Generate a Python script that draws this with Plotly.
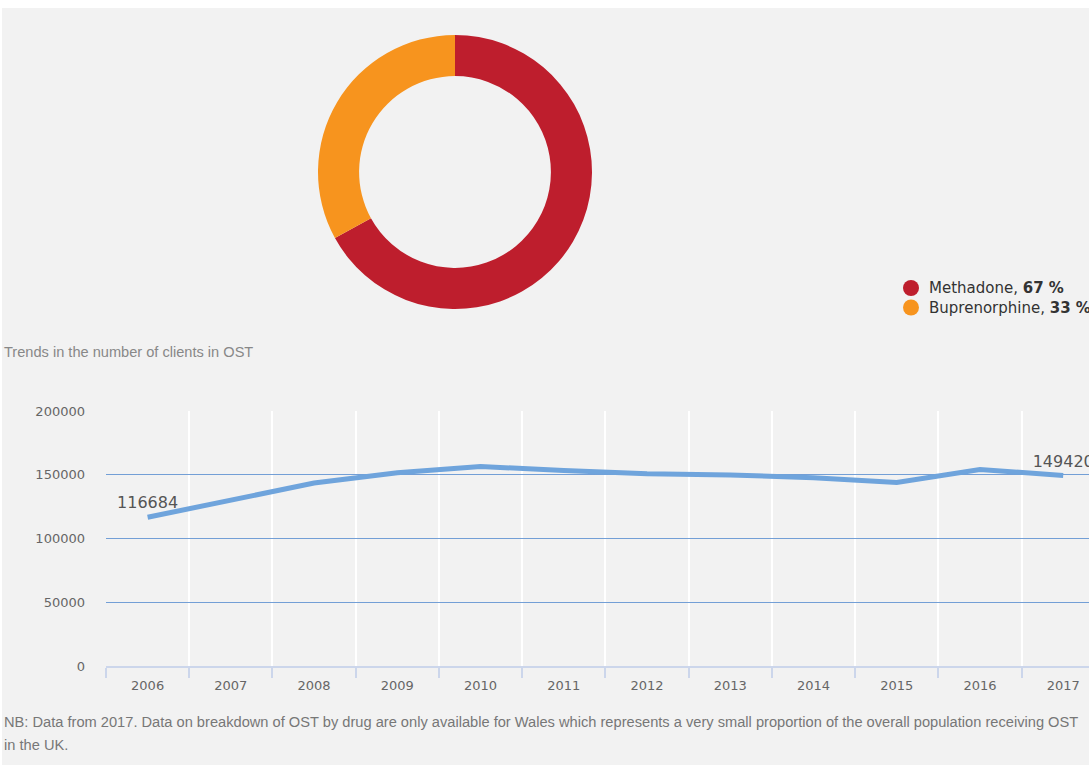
import plotly.graph_objects as go

# Donut data
drugs = ["Methadone", "Buprenorphine"]
shares = [67, 33]
drug_colors = ["#be1e2d", "#f7941e"]

# Line data
years = ["2006", "2007", "2008", "2009", "2010", "2011", "2012", "2013", "2014", "2015", "2016", "2017"]
clients = [116684, 129900, 143500, 151500, 156500, 153300, 150800, 149800, 147700, 143900, 154100, 149420]
labelled = ["116684", "", "", "", "", "", "", "", "", "", "", "149420"]

y_ticks = [0, 50000, 100000, 150000, 200000]

# page margins around the chart (top white band 8px, left 2px)
OFFX, OFFY = 2, 8
W, H = 1089 - OFFX, 765 - OFFY


def px_x(p):
    return (p - OFFX) / W


def px_y(p):
    return 1 - (p - OFFY) / H


fig = go.Figure()

fig.add_trace(go.Pie(
    labels=drugs, values=shares, hole=0.70, sort=False, direction="clockwise",
    rotation=0, marker=dict(colors=drug_colors, line=dict(width=0)),
    textinfo="none", showlegend=False,
    domain=dict(x=[px_x(318), px_x(592)], y=[px_y(309), px_y(35)]),
))

fig.add_trace(go.Scatter(
    x=years, y=clients, mode="lines+markers+text", text=labelled,
    textposition="top center",
    textfont=dict(family="DejaVu Sans", size=16, color="#555555"),
    marker=dict(size=6, color="rgba(0,0,0,0)"),
    line=dict(color="#6fa4dc", width=5), showlegend=False, cliponaxis=False,
))

# custom legend (circle symbols + labels), built from the donut data
shapes = []
annotations = []
legend_y = [288, 307.5]
for name, share, col, ly in zip(drugs, shares, drug_colors, legend_y):
    shapes.append(dict(
        type="circle", xref="paper", yref="paper",
        xsizemode="pixel", ysizemode="pixel",
        xanchor=px_x(911), yanchor=px_y(ly),
        x0=-8, x1=8, y0=-8, y1=8,
        fillcolor=col, line=dict(width=0),
    ))
    annotations.append(dict(
        text=f"{name}, <b>{share} %</b>", xref="paper", yref="paper",
        x=px_x(927), y=px_y(ly), xanchor="left", yanchor="middle", showarrow=False,
        font=dict(family="DejaVu Sans", size=15, color="#333333"),
    ))

annotations += [
    dict(text="Trends in the number of clients in OST", xref="paper", yref="paper",
         x=0, y=px_y(352), xanchor="left", yanchor="middle", showarrow=False,
         font=dict(family="Liberation Sans", size=14.6, color="#888888")),
    dict(text="NB: Data from 2017. Data on breakdown of OST by drug are only available for Wales which represents a very small proportion of the overall population receiving OST",
         xref="paper", yref="paper",
         x=0, y=px_y(722), xanchor="left", yanchor="middle", showarrow=False,
         font=dict(family="Liberation Sans", size=14.65, color="#777777")),
    dict(text="in the UK.", xref="paper", yref="paper",
         x=0, y=px_y(745), xanchor="left", yanchor="middle", showarrow=False,
         font=dict(family="Liberation Sans", size=14.65, color="#777777")),
]

fig.update_layout(
    width=W, height=H,
    margin=dict(l=0, r=0, t=0, b=0, pad=0),
    paper_bgcolor="#f2f2f2", plot_bgcolor="#f2f2f2",
    font=dict(family="DejaVu Sans", size=13, color="#666666"),
    showlegend=False,
    xaxis=dict(
        type="category", categoryorder="array", categoryarray=years,
        range=[-0.5, 11.31], domain=[px_x(106), 1], automargin=False,
        showgrid=True, gridcolor="#ffffff", gridwidth=1.5,
        tickson="boundaries", ticks="outside", ticklen=10, tickcolor="#ccd6eb", tickwidth=1.5,
        showline=True, linecolor="#ccd6eb", linewidth=2,
        ticklabelstandoff=6,
        tickfont=dict(family="DejaVu Sans", size=13, color="#666666"),
        zeroline=False, fixedrange=True,
    ),
    yaxis=dict(
        range=[0, 200000], domain=[px_y(666), px_y(411)], automargin=False,
        tickvals=y_ticks, tickformat="d",
        showgrid=True, gridcolor="#739fd6", gridwidth=1,
        zeroline=False, showline=False, ticks="",
        ticklabelstandoff=20,
        tickfont=dict(family="DejaVu Sans", size=13, color="#666666"),
        fixedrange=True,
    ),
    shapes=shapes,
    annotations=annotations,
)

fig.write_html(
    "out.html",
    post_script="document.body.style.margin='8px 0 0 2px'; document.body.style.overflow='hidden';",
)
